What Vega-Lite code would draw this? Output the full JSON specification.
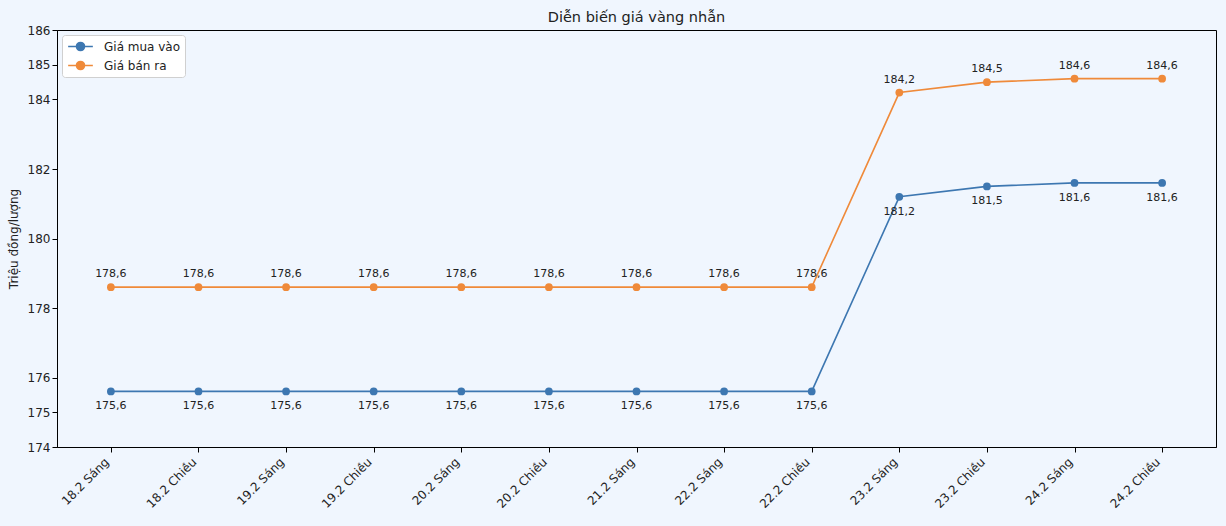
{
  "$schema": "https://vega.github.io/schema/vega-lite/v6.json",
  "width": 1159,
  "height": 417,
  "autosize": "none",
  "padding": {"left": 57, "top": 30, "right": 10, "bottom": 79},
  "background": "#f0f6fe",
  "config": {
    "view": {"stroke": "#000000", "strokeWidth": 1, "fill": "#f0f6fe"},
    "font": "DejaVu Sans",
    "locale": {"number": {"decimal": ",", "thousands": ".", "grouping": [3], "currency": ["", " đ"]}},
    "axis": {"domainColor": "#000000", "tickColor": "#000000", "labelColor": "#222222", "titleColor": "#222222", "grid": false, "labelFontSize": 12, "titleFontWeight": "normal"}
  },
  "title": {"text": "Diễn biến giá vàng nhẫn", "fontSize": 14.5, "fontWeight": "normal", "color": "#222222", "offset": -1},
  "data": {
    "values": [
      {"time": "18.2 Sáng", "series": "Giá mua vào", "price": 175.6},
      {"time": "18.2 Chiều", "series": "Giá mua vào", "price": 175.6},
      {"time": "19.2 Sáng", "series": "Giá mua vào", "price": 175.6},
      {"time": "19.2 Chiều", "series": "Giá mua vào", "price": 175.6},
      {"time": "20.2 Sáng", "series": "Giá mua vào", "price": 175.6},
      {"time": "20.2 Chiều", "series": "Giá mua vào", "price": 175.6},
      {"time": "21.2 Sáng", "series": "Giá mua vào", "price": 175.6},
      {"time": "22.2 Sáng", "series": "Giá mua vào", "price": 175.6},
      {"time": "22.2 Chiều", "series": "Giá mua vào", "price": 175.6},
      {"time": "23.2 Sáng", "series": "Giá mua vào", "price": 181.2},
      {"time": "23.2 Chiều", "series": "Giá mua vào", "price": 181.5},
      {"time": "24.2 Sáng", "series": "Giá mua vào", "price": 181.6},
      {"time": "24.2 Chiều", "series": "Giá mua vào", "price": 181.6},
      {"time": "18.2 Sáng", "series": "Giá bán ra", "price": 178.6},
      {"time": "18.2 Chiều", "series": "Giá bán ra", "price": 178.6},
      {"time": "19.2 Sáng", "series": "Giá bán ra", "price": 178.6},
      {"time": "19.2 Chiều", "series": "Giá bán ra", "price": 178.6},
      {"time": "20.2 Sáng", "series": "Giá bán ra", "price": 178.6},
      {"time": "20.2 Chiều", "series": "Giá bán ra", "price": 178.6},
      {"time": "21.2 Sáng", "series": "Giá bán ra", "price": 178.6},
      {"time": "22.2 Sáng", "series": "Giá bán ra", "price": 178.6},
      {"time": "22.2 Chiều", "series": "Giá bán ra", "price": 178.6},
      {"time": "23.2 Sáng", "series": "Giá bán ra", "price": 184.2},
      {"time": "23.2 Chiều", "series": "Giá bán ra", "price": 184.5},
      {"time": "24.2 Sáng", "series": "Giá bán ra", "price": 184.6},
      {"time": "24.2 Chiều", "series": "Giá bán ra", "price": 184.6}
    ]
  },
  "encoding": {
    "x": {
      "field": "time", "type": "ordinal", "sort": null, "title": null,
      "scale": {"type": "point", "padding": 0.615},
      "axis": {"labelAngle": -45, "labelAlign": "right", "labelBaseline": "top", "labelOffset": -8, "tickSize": 5, "labelPadding": 4, "domain": true}
    },
    "y": {
      "field": "price", "type": "quantitative", "title": "Triệu đồng/lượng",
      "scale": {"domain": [174, 186], "nice": false, "zero": false},
      "axis": {"values": [174, 175, 176, 178, 180, 182, 184, 185, 186], "format": "d", "tickSize": 5, "titleFontSize": 12, "titlePadding": 7}
    }
  },
  "layer": [
    {
      "mark": {"type": "line", "strokeWidth": 1.6, "point": {"filled": true, "size": 60, "opacity": 1}},
      "encoding": {
        "color": {
          "field": "series", "type": "nominal", "sort": ["Giá mua vào", "Giá bán ra"],
          "scale": {"domain": ["Giá mua vào", "Giá bán ra"], "range": ["#3d77b1", "#ef8a3a"]},
          "legend": {
            "title": null, "orient": "none", "legendX": 5, "legendY": 5,
            "fillColor": "#ffffff", "strokeColor": "#d0d0d0", "cornerRadius": 3, "padding": 4,
            "labelFontSize": 12, "labelColor": "#222222", "labelOffset": 16, "rowPadding": 4,
            "symbolType": "M-1.9,0L1.9,0M-0.62,0A0.62,0.62,0,1,1,0.62,0A0.62,0.62,0,1,1,-0.62,0Z",
            "symbolSize": 169, "symbolStrokeWidth": 1.6, "symbolOffset": 7,
            "encode": {"symbols": {"update": {"fill": {"scale": "color", "field": "value"}, "stroke": {"scale": "color", "field": "value"}}}}
          }
        }
      }
    },
    {
      "transform": [{"filter": "datum.series === 'Giá mua vào'"}],
      "mark": {"type": "text", "dy": 15, "fontSize": 11, "color": "#222222"},
      "encoding": {"text": {"field": "price", "type": "quantitative", "format": ".1f"}}
    },
    {
      "transform": [{"filter": "datum.series === 'Giá bán ra'"}],
      "mark": {"type": "text", "dy": -13, "fontSize": 11, "color": "#222222"},
      "encoding": {"text": {"field": "price", "type": "quantitative", "format": ".1f"}}
    }
  ]
}
